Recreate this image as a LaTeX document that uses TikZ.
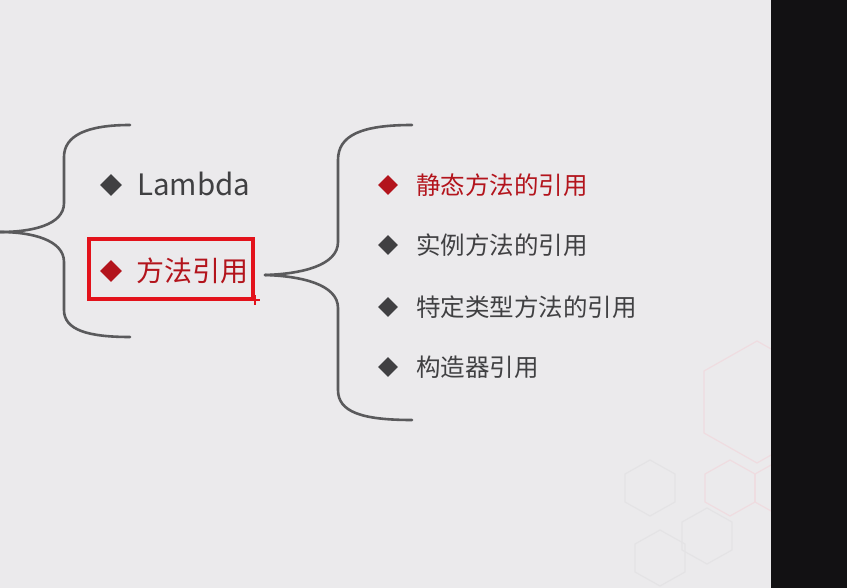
\documentclass[tikz,border=0pt]{standalone}
\usepackage{fontspec}
\setmainfont{Noto Sans CJK SC}
\usetikzlibrary{shapes.geometric}
\definecolor{bg}{HTML}{EBEAEC}
\definecolor{dark}{HTML}{121113}
\definecolor{linegray}{HTML}{5A5A5C}
\definecolor{txtgray}{HTML}{404042}
\definecolor{txtred}{HTML}{B3141C}
\definecolor{boxred}{HTML}{E3121B}
\definecolor{hexpink}{HTML}{EFDCE0}
\definecolor{hexgray}{HTML}{E4E3E5}
\tikzset{
  bracket/.style={draw=linegray,line width=2.6pt,line cap=round},
  bulletbig/.style={diamond,fill=#1,inner sep=0pt,minimum width=22pt,minimum height=22pt},
  bulletsmall/.style={diamond,fill=#1,inner sep=0pt,minimum width=20pt,minimum height=20pt},
  bigtext/.style={anchor=base west,inner sep=0pt,font=\fontsize{28}{31}\selectfont,text=#1},
  smalltext/.style={anchor=base west,inner sep=0pt,font=\fontsize{24.5}{28}\selectfont,text=#1},
  hex/.style={draw=hexpink,line width=1.2pt},
  hexfaint/.style={draw=hexgray,line width=1.2pt}
}
\begin{document}
\begin{tikzpicture}[x=1pt,y=-1pt]
\useasboundingbox (0,0) rectangle (847,588);
\fill[bg] (0,0) rectangle (847,588);
% faint hexagons
\draw[hex] (757,341) -- (810,371) -- (810,433) -- (757,463) -- (704,433) -- (704,371) -- cycle;
\draw[hex] (730,460) -- (755,474) -- (755,502) -- (730,516) -- (705,502) -- (705,474) -- cycle;
\draw[hex] (780,460) -- (805,474) -- (805,502) -- (780,516) -- (755,502) -- (755,474) -- cycle;
\draw[hexfaint] (707,508) -- (732,522) -- (732,550) -- (707,564) -- (682,550) -- (682,522) -- cycle;
\draw[hexfaint] (650,460) -- (675,474) -- (675,502) -- (650,516) -- (625,502) -- (625,474) -- cycle;
\draw[hexfaint] (660,530) -- (685,544) -- (685,572) -- (660,586) -- (635,572) -- (635,544) -- cycle;
\fill[dark] (771,0) rectangle (847,588);
% left bracket
\coordinate (ltip) at (0,232);
\coordinate (ltop) at (130,125);
\coordinate (lbot) at (130,337);
\draw[bracket] (ltop) .. controls (88,125) and (64,135) .. (64,157) -- (64,203)
  .. controls (64,225) and (32,232) .. (ltip);
\draw[bracket] (ltip) .. controls (32,232) and (64,240) .. (64,262) -- (64,310)
  .. controls (64,330) and (88,337) .. (lbot);
% right bracket
\coordinate (rtip) at (265,275);
\coordinate (rtop) at (412,125);
\coordinate (rbot) at (412,420);
\draw[bracket] (rtop) .. controls (362,125) and (338,135) .. (338,160) -- (338,242)
  .. controls (338,266) and (300,274) .. (rtip);
\draw[bracket] (rtip) .. controls (300,276) and (338,284) .. (338,308) -- (338,390)
  .. controls (338,412) and (362,420) .. (rbot);
% left items
\node[bulletbig=txtgray] (d1) at (111,185) {};
\node[bigtext=txtgray,font=\fontsize{29.5}{32}\selectfont] (t1) at (137,195.5) {Lambda};
\node[bulletbig=txtred] (d2) at (111,271) {};
\node[bigtext=txtred] (t2) at (136,281.5) {方法引用};
\draw[boxred,line width=3.4pt] (89,239) rectangle (253,299);
\draw[boxred,line width=1.2pt] (255,295) -- (255,305) (250,300) -- (260,300);
% right items
\node[bulletsmall=txtred] (r1) at (388,185) {};
\node[smalltext=txtred] (s1) at (416,194.5) {静态方法的引用};
\node[bulletsmall=txtgray] (r2) at (388,245) {};
\node[smalltext=txtgray] (s2) at (416,254.5) {实例方法的引用};
\node[bulletsmall=txtgray] (r3) at (388,307) {};
\node[smalltext=txtgray] (s3) at (416,316.5) {特定类型方法的引用};
\node[bulletsmall=txtgray] (r4) at (388,367) {};
\node[smalltext=txtgray] (s4) at (416,376.5) {构造器引用};
\end{tikzpicture}
\end{document}
